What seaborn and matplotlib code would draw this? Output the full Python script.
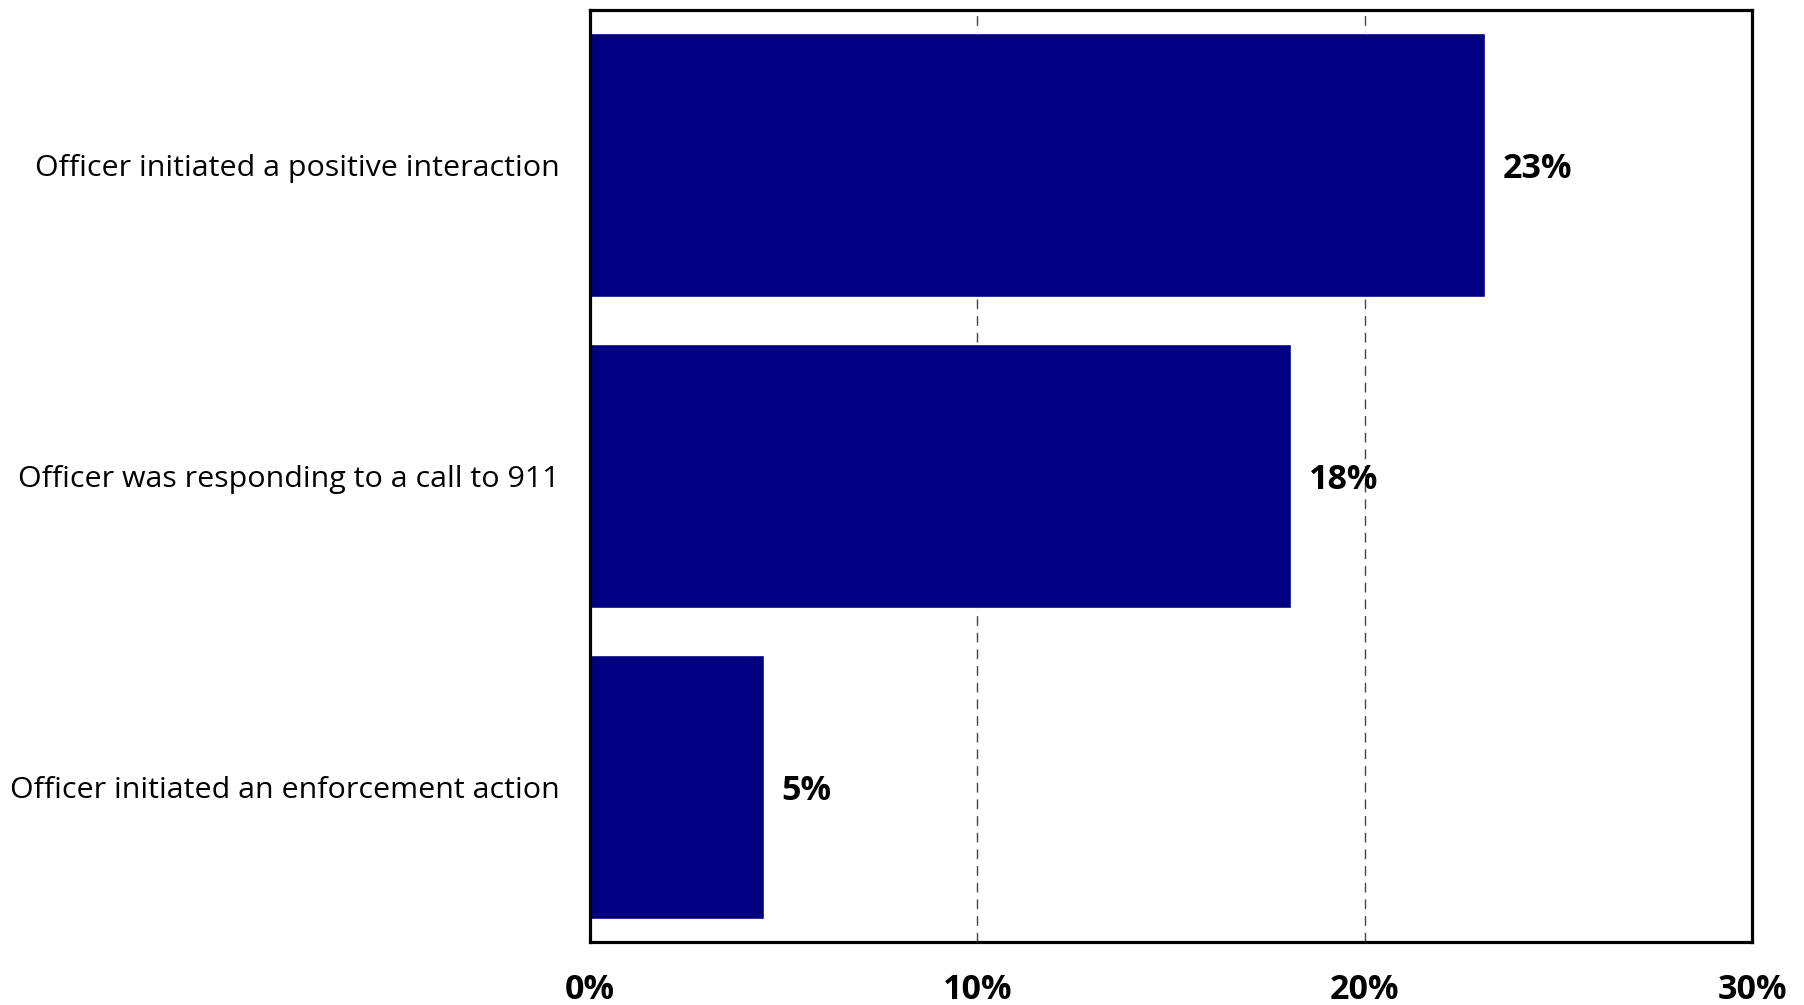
import matplotlib
matplotlib.use("Agg")
import matplotlib.pyplot as plt
import seaborn as sns
import pandas as pd

# Survey results: how the contact with an officer began
categories = [
    "Officer initiated a positive interaction",
    "Officer was responding to a call to 911",
    "Officer initiated an enforcement action",
]
shares = [23.1, 18.1, 4.5]
x_ticks = [0, 10, 20, 30]
x_tick_labels = ["0%", "10%", "20%", "30%"]

df = pd.DataFrame({"category": categories, "share": shares})

sns.set_theme(style="white")
plt.rcParams["font.family"] = ["Open Sans", "DejaVu Sans"]
plt.rcParams["text.color"] = "black"
plt.rcParams["xtick.color"] = "black"
plt.rcParams["ytick.color"] = "black"

fig = plt.figure(figsize=(18.04, 10.05), dpi=100)
ax = fig.add_axes([0.327, 0.0627, 0.6443, 0.9273])

sns.barplot(data=df, x="share", y="category", orient="h", color="#000080",
            saturation=1, width=0.85, ax=ax)

ax.set_xlim(0, 30)
ax.set_ylim(2.5, -0.5)
ax.set_xticks(x_ticks)
ax.set_xticklabels(x_tick_labels, fontsize=24.5, fontweight="bold")
ax.tick_params(axis="x", length=0, pad=22, labelcolor="black")
ax.tick_params(axis="y", length=0, pad=22, labelsize=21.9, labelcolor="black")
ax.set_xlabel("")
ax.set_ylabel("")

# dashed vertical gridlines inside the frame
ax.xaxis.grid(True, linestyle=(0, (7, 5)), color="#444444", linewidth=1.0)
ax.set_axisbelow(True)

for side in ["left", "right", "top", "bottom"]:
    ax.spines[side].set_visible(True)
    ax.spines[side].set_color("black")
    ax.spines[side].set_linewidth(2.3)

# value labels at the end of each bar
for i, v in enumerate(shares):
    ax.text(v + 0.45, i, f"{int(v + 0.5)}%", va="center_baseline", ha="left",
            fontsize=24.5, fontweight="bold", color="black")

fig.savefig("out.png", dpi=100, facecolor="white")
